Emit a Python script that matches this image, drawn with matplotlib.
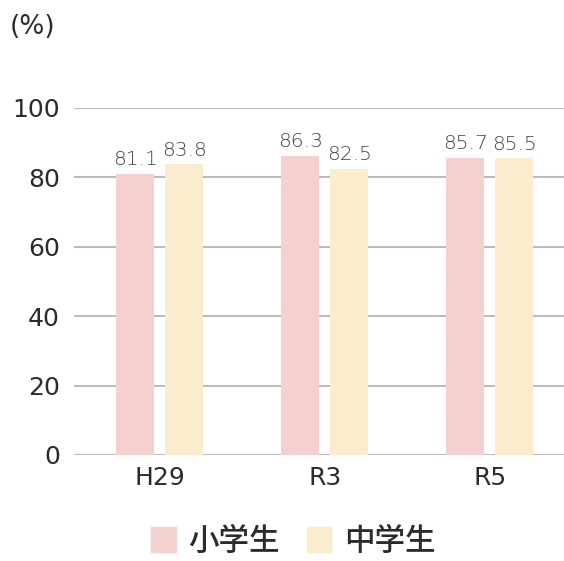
import numpy as np
import matplotlib
matplotlib.use("Agg")
import matplotlib.pyplot as plt
from matplotlib.patches import Patch

plt.rcParams['font.family'] = ['DejaVu Sans', 'Noto Sans CJK JP']

# Data
years = ["H29", "R3", "R5"]
elementary = [81.1, 86.3, 85.7]
junior_high = [83.8, 82.5, 85.5]
series_names = ["小学生", "中学生"]
yticks = [0, 20, 40, 60, 80, 100]

pink = "#F4D1CF"
cream = "#FAEDCD"
grid_color = "#BDBBC1"
text_color = "#2B2B2B"

fig = plt.figure(figsize=(5.64, 5.61), dpi=100)
ax = fig.add_axes([0.131, 0.189, 0.869, 0.6185])

x = np.arange(len(years))
w = 0.23
off = 0.148
ax.bar(x - off, elementary, width=w, color=pink, zorder=2)
ax.bar(x + off, junior_high, width=w, color=cream, zorder=2)

for xi, v in zip(x - off, elementary):
    ax.text(xi, v + 1.3, f"{v}", ha="center", va="bottom", fontsize=14.5,
            color="#444444", fontweight=200)
for xi, v in zip(x + off, junior_high):
    ax.text(xi, v + 1.3, f"{v}", ha="center", va="bottom", fontsize=14.5,
            color="#444444", fontweight=200)

ax.set_ylim(0, 100)
ax.set_xlim(-0.52, 2.45)
ax.set_yticks(yticks)
ax.set_yticklabels([str(t) for t in yticks], fontsize=18, color=text_color)
ax.set_xticks(x)
ax.set_xticklabels(years, fontsize=18, color=text_color)
ax.tick_params(axis="both", length=0)
ax.tick_params(axis="y", pad=10)
ax.tick_params(axis="x", pad=8)
ax.yaxis.grid(True, color=grid_color, linewidth=1.5, zorder=0)
for s in ax.spines.values():
    s.set_visible(False)

fig.text(0.018, 0.952, "(%)", fontsize=19, color=text_color, ha="left", va="center")

handles = [Patch(color=pink), Patch(color=cream)]
fig.legend(handles, series_names, loc="center", bbox_to_anchor=(0.52, 0.035),
           ncol=2, frameon=False, handlelength=0.8, handleheight=0.9,
           handletextpad=0.4, columnspacing=0.9, labelcolor=text_color,
           prop={'family': ['Noto Sans CJK JP'], 'size': 22, 'weight': 'medium'})

fig.savefig("out.png", dpi=100)
